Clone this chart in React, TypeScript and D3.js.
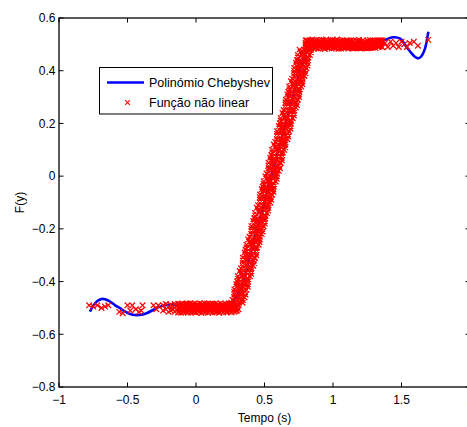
import React from "react";
import * as d3 from "d3";

// ---------- data ----------
const xTicks = [-1, -0.5, 0, 0.5, 1, 1.5, 2];
const yTicks = [-0.8, -0.6, -0.4, -0.2, 0, 0.2, 0.4, 0.6];

// Chebyshev polynomial curve
const chebX = [-0.774, -0.75, -0.72, -0.69, -0.664, -0.63, -0.59, -0.555, -0.52, -0.48, -0.445, -0.4, -0.36, -0.31, -0.263, -0.2, -0.14, -0.05, 0.05, 0.15, 0.22, 0.26, 0.29, 0.33, 0.4, 0.5, 0.6, 0.7, 0.77, 0.81, 0.84, 0.88, 0.95, 1.05, 1.15, 1.25, 1.32, 1.38, 1.438, 1.49, 1.526, 1.57, 1.6, 1.623, 1.645, 1.672, 1.685, 1.696];
const chebY = [-0.514, -0.492, -0.474, -0.466, -0.467, -0.475, -0.49, -0.501, -0.513, -0.523, -0.527, -0.526, -0.52, -0.507, -0.495, -0.488, -0.487, -0.494, -0.501, -0.503, -0.497, -0.485, -0.46, -0.425, -0.29, -0.097, 0.095, 0.288, 0.42, 0.475, 0.494, 0.502, 0.503, 0.497, 0.488, 0.49, 0.503, 0.517, 0.527, 0.522, 0.498, 0.468, 0.452, 0.447, 0.455, 0.485, 0.515, 0.548];

// sparse samples of the nonlinear function
const sparseX = [-0.78, -0.75, -0.72, -0.69, -0.665, -0.64, -0.56, -0.535, -0.5, -0.48, -0.465, -0.44, -0.415, -0.4, -0.39, -0.31, -0.29, -0.275, 1.38, 1.4, 1.42, 1.44, 1.46, 1.48, 1.5, 1.52, 1.54, 1.56, 1.59, 1.62, 1.695];
const sparseY = [-0.49, -0.495, -0.49, -0.5, -0.495, -0.49, -0.515, -0.52, -0.49, -0.51, -0.49, -0.505, -0.515, -0.51, -0.49, -0.49, -0.505, -0.49, 0.505, 0.49, 0.51, 0.495, 0.505, 0.49, 0.51, 0.5, 0.49, 0.505, 0.51, 0.495, 0.517];

// lower saturated band: [x, y values...]
const lowerBand = [
  [-0.24, -0.49, -0.51], [-0.22, -0.505, -0.485], [-0.2, -0.495, -0.515], [-0.185, -0.51, -0.488],
  [-0.17, -0.492, -0.505], [-0.155, -0.515, -0.485, -0.5], [-0.14, -0.49, -0.508], [-0.13, -0.502, -0.484, -0.517],
  [-0.12, -0.493, -0.51, -0.5], [-0.11, -0.486, -0.505, -0.518, -0.495], [-0.1, -0.498, -0.512, -0.483, -0.505], [-0.09, -0.49, -0.507, -0.516, -0.498],
  [-0.08, -0.503, -0.485, -0.495, -0.511], [-0.07, -0.514, -0.49, -0.5, -0.484], [-0.06, -0.484, -0.506, -0.518, -0.495], [-0.05, -0.496, -0.511, -0.488, -0.503],
  [-0.04, -0.505, -0.482, -0.517, -0.493], [-0.03, -0.49, -0.5, -0.513, -0.507], [-0.02, -0.486, -0.508, -0.497, -0.515], [-0.01, -0.515, -0.494, -0.483, -0.503],
  [0.0, -0.502, -0.489, -0.518, -0.495], [0.01, -0.485, -0.51, -0.496, -0.504], [0.02, -0.507, -0.492, -0.516, -0.499], [0.03, -0.498, -0.483, -0.512, -0.506],
  [0.04, -0.49, -0.505, -0.519, -0.497], [0.05, -0.487, -0.5, -0.514, -0.508], [0.06, -0.509, -0.495, -0.482, -0.501], [0.07, -0.493, -0.516, -0.503, -0.486],
  [0.08, -0.484, -0.498, -0.511, -0.505], [0.09, -0.506, -0.49, -0.518, -0.498], [0.1, -0.497, -0.485, -0.513, -0.504], [0.11, -0.51, -0.492, -0.502, -0.486],
  [0.12, -0.483, -0.505, -0.517, -0.496], [0.13, -0.495, -0.488, -0.511, -0.503], [0.14, -0.508, -0.499, -0.484, -0.516], [0.15, -0.49, -0.515, -0.503, -0.496],
  [0.16, -0.486, -0.497, -0.512, -0.505], [0.17, -0.504, -0.491, -0.519, -0.498], [0.18, -0.494, -0.482, -0.509, -0.502], [0.19, -0.513, -0.5, -0.488, -0.495],
  [0.2, -0.489, -0.506, -0.517, -0.498], [0.21, -0.498, -0.484, -0.511, -0.504], [0.22, -0.507, -0.493, -0.516, -0.487], [0.23, -0.486, -0.501, -0.514, -0.495],
  [0.24, -0.495, -0.509, -0.483, -0.502], [0.25, -0.512, -0.49, -0.5, -0.485], [0.26, -0.484, -0.504, -0.517, -0.494], [0.27, -0.497, -0.489, -0.51, -0.503],
  [0.28, -0.506, -0.493, -0.515, -0.485], [0.29, -0.488, -0.502, -0.512, -0.495], [0.3, -0.497, -0.51, -0.486], [0.31, -0.505, -0.49],
];

// ramp band: [y, x values...]
const rampBand = [
  [-0.48, 0.256, 0.288, 0.316, 0.34], [-0.47, 0.266, 0.3, 0.328, 0.342], [-0.46, 0.279, 0.301, 0.329, 0.355],
  [-0.45, 0.28, 0.298, 0.326, 0.362], [-0.44, 0.279, 0.301, 0.333, 0.359], [-0.43, 0.28, 0.31, 0.332, 0.368],
  [-0.42, 0.296, 0.314, 0.342, 0.378], [-0.41, 0.293, 0.325, 0.353, 0.377], [-0.4, 0.3, 0.322, 0.354, 0.38],
  [-0.39, 0.307, 0.341, 0.369, 0.383], [-0.38, 0.306, 0.336, 0.358, 0.394], [-0.37, 0.326, 0.348, 0.376, 0.402],
  [-0.36, 0.319, 0.351, 0.379, 0.403], [-0.35, 0.328, 0.362, 0.39, 0.404], [-0.34, 0.341, 0.363, 0.391, 0.417],
  [-0.33, 0.342, 0.36, 0.388, 0.424], [-0.32, 0.342, 0.364, 0.396, 0.422], [-0.31, 0.343, 0.373, 0.395, 0.431],
  [-0.3, 0.358, 0.376, 0.404, 0.44], [-0.29, 0.355, 0.387, 0.415, 0.439], [-0.28, 0.362, 0.384, 0.416, 0.442],
  [-0.27, 0.37, 0.404, 0.432, 0.446], [-0.26, 0.369, 0.399, 0.421, 0.457], [-0.25, 0.388, 0.41, 0.438, 0.464],
  [-0.24, 0.381, 0.413, 0.441, 0.465], [-0.23, 0.39, 0.424, 0.452, 0.466], [-0.22, 0.404, 0.426, 0.454, 0.48],
  [-0.21, 0.405, 0.423, 0.451, 0.487], [-0.2, 0.404, 0.426, 0.458, 0.484], [-0.19, 0.405, 0.435, 0.457, 0.493],
  [-0.18, 0.42, 0.438, 0.466, 0.502], [-0.17, 0.418, 0.45, 0.478, 0.502], [-0.16, 0.425, 0.447, 0.479, 0.505],
  [-0.15, 0.432, 0.466, 0.494, 0.508], [-0.14, 0.431, 0.461, 0.483, 0.519], [-0.13, 0.45, 0.472, 0.5, 0.526],
  [-0.12, 0.444, 0.476, 0.504, 0.528], [-0.11, 0.453, 0.487, 0.515, 0.529], [-0.1, 0.466, 0.488, 0.516, 0.542],
  [-0.09, 0.467, 0.485, 0.513, 0.549], [-0.08, 0.466, 0.488, 0.52, 0.546], [-0.07, 0.468, 0.498, 0.52, 0.556],
  [-0.06, 0.483, 0.501, 0.529, 0.565], [-0.05, 0.48, 0.512, 0.54, 0.564], [-0.04, 0.487, 0.509, 0.541, 0.567],
  [-0.03, 0.494, 0.528, 0.556, 0.57], [-0.02, 0.494, 0.524, 0.546, 0.582], [-0.01, 0.513, 0.535, 0.563, 0.589],
  [0.0, 0.506, 0.538, 0.566, 0.59], [0.01, 0.515, 0.549, 0.577, 0.591], [0.02, 0.528, 0.55, 0.578, 0.604],
  [0.03, 0.53, 0.548, 0.576, 0.612], [0.04, 0.529, 0.551, 0.583, 0.609], [0.05, 0.53, 0.56, 0.582, 0.618],
  [0.06, 0.545, 0.563, 0.591, 0.627], [0.07, 0.542, 0.574, 0.602, 0.626], [0.08, 0.55, 0.572, 0.604, 0.63],
  [0.09, 0.557, 0.591, 0.619, 0.633], [0.1, 0.556, 0.586, 0.608, 0.644], [0.11, 0.575, 0.597, 0.625, 0.651],
  [0.12, 0.568, 0.6, 0.628, 0.652], [0.13, 0.578, 0.612, 0.64, 0.654], [0.14, 0.591, 0.613, 0.641, 0.667],
  [0.15, 0.592, 0.61, 0.638, 0.674], [0.16, 0.591, 0.613, 0.645, 0.671], [0.17, 0.592, 0.622, 0.644, 0.68],
  [0.18, 0.608, 0.626, 0.654, 0.69], [0.19, 0.605, 0.637, 0.665, 0.689], [0.2, 0.612, 0.634, 0.666, 0.692],
  [0.21, 0.619, 0.653, 0.681, 0.695], [0.22, 0.618, 0.648, 0.67, 0.706], [0.23, 0.638, 0.66, 0.688, 0.714],
  [0.24, 0.631, 0.663, 0.691, 0.715], [0.25, 0.64, 0.674, 0.702, 0.716], [0.26, 0.653, 0.675, 0.703, 0.729],
  [0.27, 0.654, 0.672, 0.7, 0.736], [0.28, 0.654, 0.676, 0.708, 0.734], [0.29, 0.655, 0.685, 0.707, 0.743],
  [0.3, 0.67, 0.688, 0.716, 0.752], [0.31, 0.667, 0.699, 0.727, 0.751], [0.32, 0.674, 0.696, 0.728, 0.754],
  [0.33, 0.682, 0.716, 0.744, 0.758], [0.34, 0.681, 0.711, 0.733, 0.769], [0.35, 0.7, 0.722, 0.75, 0.776],
  [0.36, 0.693, 0.725, 0.753, 0.777], [0.37, 0.702, 0.736, 0.764, 0.778], [0.38, 0.716, 0.738, 0.766, 0.792],
  [0.39, 0.717, 0.735, 0.763, 0.799], [0.4, 0.716, 0.738, 0.77, 0.796], [0.41, 0.717, 0.747, 0.769, 0.805],
  [0.42, 0.732, 0.75, 0.778, 0.814], [0.43, 0.73, 0.762, 0.79, 0.814], [0.44, 0.737, 0.759, 0.791, 0.817],
  [0.45, 0.744, 0.778, 0.806, 0.82], [0.46, 0.743, 0.773, 0.795, 0.831], [0.47, 0.762, 0.784, 0.812, 0.838],
  [0.48, 0.756, 0.788, 0.816, 0.84],
];

// upper saturated band: [x, y values...]
const upperBand = [
  [0.8, 0.505, 0.49, 0.515, 0.498], [0.81, 0.495, 0.515, 0.503, 0.485], [0.82, 0.497, 0.512, 0.484, 0.505], [0.83, 0.516, 0.49, 0.503, 0.497],
  [0.84, 0.486, 0.508, 0.499, 0.515], [0.85, 0.505, 0.518, 0.491, 0.498], [0.86, 0.494, 0.483, 0.511, 0.503], [0.87, 0.514, 0.5, 0.488, 0.507],
  [0.88, 0.489, 0.506, 0.517, 0.497], [0.89, 0.502, 0.484, 0.495, 0.512], [0.9, 0.517, 0.493, 0.508, 0.5], [0.91, 0.485, 0.499, 0.512, 0.505],
  [0.92, 0.509, 0.49, 0.503, 0.517], [0.93, 0.496, 0.515, 0.486, 0.505], [0.94, 0.504, 0.482, 0.513, 0.495], [0.95, 0.491, 0.507, 0.518, 0.5],
  [0.96, 0.513, 0.497, 0.487, 0.505], [0.97, 0.486, 0.502, 0.51, 0.495], [0.98, 0.508, 0.516, 0.492, 0.5], [0.99, 0.495, 0.484, 0.505, 0.513],
  [1.0, 0.517, 0.5, 0.489, 0.507], [1.01, 0.488, 0.511, 0.496, 0.503], [1.02, 0.503, 0.485, 0.514, 0.495], [1.03, 0.492, 0.508, 0.518, 0.5],
  [1.04, 0.51, 0.494, 0.483, 0.503], [1.05, 0.498, 0.515, 0.487, 0.506], [1.06, 0.484, 0.505, 0.512, 0.495], [1.07, 0.507, 0.491, 0.516, 0.499],
  [1.08, 0.494, 0.5, 0.486, 0.511], [1.09, 0.513, 0.488, 0.503, 0.495], [1.1, 0.49, 0.509, 0.497, 0.515], [1.11, 0.501, 0.484, 0.514, 0.493],
  [1.12, 0.511, 0.495, 0.488, 0.503], [1.13, 0.487, 0.506, 0.516, 0.496], [1.14, 0.499, 0.49, 0.51, 0.485], [1.15, 0.515, 0.485, 0.502, 0.493],
  [1.16, 0.493, 0.508, 0.497, 0.486], [1.17, 0.505, 0.488, 0.514, 0.495], [1.18, 0.486, 0.499, 0.511, 0.491], [1.19, 0.509, 0.494, 0.517, 0.487],
  [1.2, 0.497, 0.484, 0.506, 0.49], [1.21, 0.512, 0.502, 0.49, 0.486], [1.22, 0.488, 0.516, 0.498, 0.493], [1.23, 0.504, 0.492, 0.51, 0.486],
  [1.24, 0.495, 0.507, 0.486, 0.49], [1.25, 0.514, 0.5, 0.49, 0.485], [1.26, 0.491, 0.51, 0.503, 0.486], [1.27, 0.506, 0.487, 0.516, 0.495],
  [1.28, 0.498, 0.512, 0.488], [1.29, 0.488, 0.505, 0.515, 0.496], [1.3, 0.509, 0.494, 0.5], [1.31, 0.5, 0.486, 0.512, 0.506],
  [1.32, 0.514, 0.497, 0.505], [1.33, 0.49, 0.506, 0.515], [1.34, 0.503, 0.516, 0.492], [1.35, 0.496, 0.51, 0.515], [1.36, 0.507, 0.489, 0.515],
];

const legendLabels = ["Polinómio Chebyshev", "Função não linear"];

// ---------- layout ----------
const W = 467;
const H = 427;
const FONT = "'Liberation Sans', Arial, Helvetica, sans-serif";

function crossD(cx: number, cy: number, s: number) {
  return `M${cx - s},${cy - s}L${cx + s},${cy + s}M${cx - s},${cy + s}L${cx + s},${cy - s}`;
}

export default function App() {
  const x = d3.scaleLinear().domain([-1, 2]).range([59, 470]);
  const y = d3.scaleLinear().domain([-0.8, 0.6]).range([387, 18]);

  const pts: [number, number][] = [];
  sparseX.forEach((v, i) => pts.push([v, sparseY[i]]));
  lowerBand.forEach(([xv, ...ys]) => ys.forEach((yv) => pts.push([xv, yv])));
  rampBand.forEach(([yv, ...xs]) => xs.forEach((xv) => pts.push([xv, yv])));
  upperBand.forEach(([xv, ...ys]) => ys.forEach((yv) => pts.push([xv, yv])));

  const s = 2.8;
  const crossPath = pts.map(([a, b]) => crossD(x(a), y(b), s)).join("");

  const line = d3
    .line<number>()
    .x((_, i) => x(chebX[i]))
    .y((d) => y(d))
    .curve(d3.curveCatmullRom);

  const fmt = (d: number) => (d < 0 ? "\u2212" + String(Math.abs(d)) : String(d));

  const [x0, x1] = x.range();
  const [y0, y1] = y.range(); // bottom, top
  const tl = 4.5;

  return (
    <svg
      width={W}
      height={H}
      style={{ position: "absolute", left: 0, top: 0, background: "#fff" }}
      fontFamily={FONT}
    >
      <rect x={0} y={0} width={W} height={H} fill="#fff" />
      {/* data */}
      <path d={line(chebY) || ""} fill="none" stroke="#0000ff" strokeWidth={2.6} strokeLinejoin="round" />
      <path d={crossPath} fill="none" stroke="#ff0000" strokeWidth={1.25} />

      {/* axes box */}
      <rect x={x0} y={y1} width={x1 - x0} height={y0 - y1} fill="none" stroke="#000" strokeWidth={1.3} />
      {xTicks.map((t) => (
        <g key={"xt" + t}>
          <line x1={x(t)} x2={x(t)} y1={y0} y2={y0 - tl} stroke="#000" strokeWidth={1} />
          <line x1={x(t)} x2={x(t)} y1={y1} y2={y1 + tl} stroke="#000" strokeWidth={1} />
          <text x={x(t)} y={404} fontSize={12} textAnchor="middle" fill="#000">
            {fmt(t)}
          </text>
        </g>
      ))}
      {yTicks.map((t) => (
        <g key={"yt" + t}>
          <line x1={x0} x2={x0 + tl} y1={y(t)} y2={y(t)} stroke="#000" strokeWidth={1} />
          <line x1={x1} x2={x1 - tl} y1={y(t)} y2={y(t)} stroke="#000" strokeWidth={1} />
          <text x={55.5} y={y(t) + 4.3} fontSize={12} textAnchor="end" fill="#000">
            {fmt(t)}
          </text>
        </g>
      ))}
      <text x={(x0 + x1) / 2} y={422} fontSize={12} textAnchor="middle" fill="#000">
        Tempo (s)
      </text>
      <text
        transform={`translate(24,${(y0 + y1) / 2}) rotate(-90)`}
        fontSize={12}
        textAnchor="middle"
        fill="#000"
      >
        F(y)
      </text>

      {/* legend */}
      <rect x={99.5} y={67.5} width={173} height={46.5} fill="#fff" stroke="#000" strokeWidth={1} />
      <line x1={107} x2={144} y1={82.5} y2={82.5} stroke="#0000ff" strokeWidth={2.6} />
      <path d={crossD(127.5, 102.5, 2.3)} stroke="#ff0000" strokeWidth={1.1} fill="none" />
      <text x={149} y={86.8} fontSize={12.5} fill="#000">
        {legendLabels[0]}
      </text>
      <text x={149} y={106.8} fontSize={12.5} fill="#000">
        {legendLabels[1]}
      </text>
    </svg>
  );
}
